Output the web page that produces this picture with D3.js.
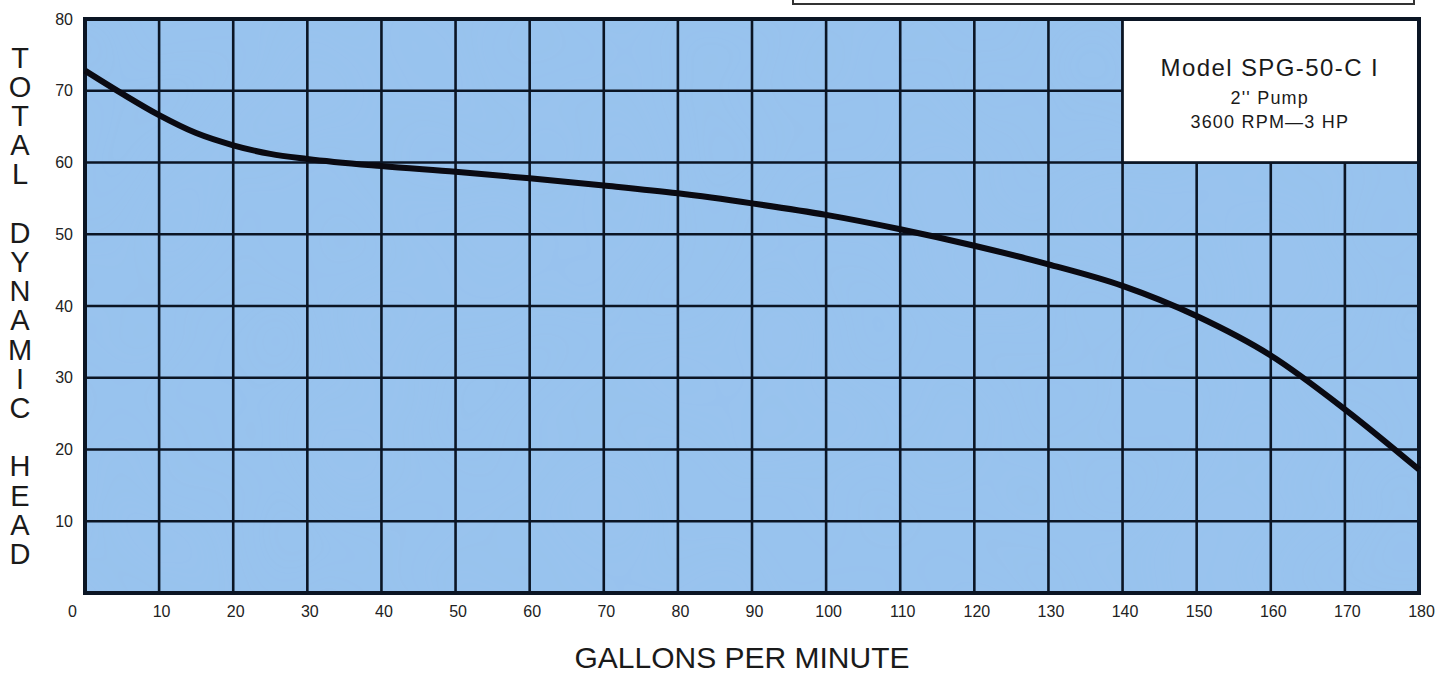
<!DOCTYPE html>
<html>
<head>
<meta charset="utf-8">
<script src="https://cdn.jsdelivr.net/npm/d3@7"></script>
<style>
  html, body { margin: 0; padding: 0; background: #ffffff; }
  svg { display: block; }
</style>
</head>
<body>
<script>
// ---- data ----
const gpm = [0, 5, 10, 15, 20, 25, 30, 40, 50, 60, 70, 80, 90, 100, 110, 120, 130, 140, 150, 160, 170, 180];
const head = [72.8, 69.6, 66.6, 64.1, 62.4, 61.2, 60.5, 59.5, 58.7, 57.8, 56.8, 55.7, 54.3, 52.7, 50.7, 48.4, 45.8, 42.8, 38.6, 33.1, 25.6, 17.2];
const xTicks = [0, 10, 20, 30, 40, 50, 60, 70, 80, 90, 100, 110, 120, 130, 140, 150, 160, 170, 180];
const yTicks = [10, 20, 30, 40, 50, 60, 70, 80];
const yTitle = "TOTAL DYNAMIC HEAD";
const xTitle = "GALLONS PER MINUTE";
const legendLines = ["Model SPG-50-C I", "2'' Pump", "3600 RPM\u20143 HP"];
const legendExtent = { x0: 140, x1: 180, y0: 60, y1: 80 };

// ---- layout ----
const W = 1453, H = 675;
const L = 85, R = 1419, T = 19, B = 593;

const svg = d3.select("body").append("svg").attr("width", W).attr("height", H);
const x = d3.scaleLinear().domain([0, 180]).range([L, R]);
const y = d3.scaleLinear().domain([0, 80]).range([B, T]);
const ink = "#0b1524";
const font = "'Liberation Sans', Arial, Helvetica, sans-serif";

// top box fragment (cut off at top)
svg.append("rect").attr("x", 793).attr("y", -20).attr("width", 621).attr("height", 24)
  .attr("fill", "none").attr("stroke", "#333").attr("stroke-width", 2);

// plot background
svg.append("rect").attr("x", L).attr("y", T).attr("width", R - L).attr("height", B - T)
  .attr("fill", "#98c3ee");

// subtle texture
const defs = svg.append("defs");
const f = defs.append("filter").attr("id", "noise").attr("x", 0).attr("y", 0).attr("width", "100%").attr("height", "100%");
f.append("feTurbulence").attr("type", "fractalNoise").attr("baseFrequency", 0.006).attr("numOctaves", 2).attr("seed", 4);
f.append("feColorMatrix").attr("type", "matrix")
  .attr("values", "0 0 0 0 0.35  0 0 0 0 0.55  0 0 0 0 0.85  0 0 0 0.35 -0.05");
svg.append("rect").attr("x", L).attr("y", T).attr("width", R - L).attr("height", B - T)
  .attr("filter", "url(#noise)").attr("opacity", 0.5);

// grid
const grid = svg.append("g").attr("stroke", ink).attr("stroke-width", 2.6);
grid.selectAll("line.v").data(xTicks.filter(d => d > 0 && d < 180)).enter().append("line")
  .attr("x1", d => x(d)).attr("x2", d => x(d)).attr("y1", T).attr("y2", B);
grid.selectAll("line.h").data(yTicks.filter(d => d < 80)).enter().append("line")
  .attr("x1", L).attr("x2", R).attr("y1", d => y(d)).attr("y2", d => y(d));

// legend box (white panel)
svg.append("rect")
  .attr("x", x(legendExtent.x0)).attr("y", y(legendExtent.y1))
  .attr("width", x(legendExtent.x1) - x(legendExtent.x0))
  .attr("height", y(legendExtent.y0) - y(legendExtent.y1))
  .attr("fill", "#ffffff").attr("stroke", ink).attr("stroke-width", 2.6);
const lcx = (x(legendExtent.x0) + x(legendExtent.x1)) / 2 - 1;
const legendSizes = [24, 18, 18];
const legendSpacing = [1.4, 1.2, 1.2];
const legendBase = [76, 104, 128];
svg.selectAll("text.leg").data(legendLines).enter().append("text")
  .attr("x", lcx).attr("y", (d, i) => legendBase[i])
  .attr("text-anchor", "middle").attr("font-family", font)
  .attr("font-size", (d, i) => legendSizes[i])
  .attr("letter-spacing", (d, i) => legendSpacing[i])
  .attr("fill", "#1a1a1a")
  .text(d => d);

// outer border
svg.append("rect").attr("x", L).attr("y", T).attr("width", R - L).attr("height", B - T)
  .attr("fill", "none").attr("stroke", ink).attr("stroke-width", 4);

// curve
const line = d3.line().x((d, i) => x(gpm[i])).y(d => y(d)).curve(d3.curveMonotoneX);
svg.append("path").datum(head).attr("d", line)
  .attr("fill", "none").attr("stroke", "#0a0a12").attr("stroke-width", 6)
  .attr("stroke-linecap", "butt");

// axes (tick labels only)
const xAxis = d3.axisBottom(x).tickValues(xTicks).tickSize(0).tickPadding(0).tickFormat(d3.format("d"));
const gx = svg.append("g").attr("transform", `translate(0,${B})`).call(xAxis);
gx.select(".domain").remove();
gx.selectAll("text").attr("font-family", font).attr("font-size", 16).attr("fill", "#222")
  .attr("y", 24).attr("dy", 0)
  .attr("dx", d => d === 0 ? -13 : 2);

const yAxis = d3.axisLeft(y).tickValues(yTicks).tickSize(0).tickPadding(0).tickFormat(d3.format("d"));
const gy = svg.append("g").attr("transform", `translate(${L},0)`).call(yAxis);
gy.select(".domain").remove();
gy.selectAll("text").attr("font-family", font).attr("font-size", 16).attr("fill", "#222")
  .attr("x", -12);

// y title: stacked letters in one text element
const chars = yTitle.split("");
const yStart = 57, yPitch = 29.2;
const yt = svg.append("text").attr("text-anchor", "middle")
  .attr("font-family", font).attr("font-size", 29).attr("fill", "#1a1a1a");
yt.selectAll("tspan").data(chars).enter().append("tspan")
  .attr("x", 20).attr("y", (d, i) => yStart + i * yPitch + 10.5)
  .text(d => d === " " ? "\u00a0" : d);

// x title
svg.append("text").attr("x", 742).attr("y", 668).attr("text-anchor", "middle")
  .attr("font-family", font).attr("font-size", 30).attr("fill", "#1a1a1a")
  .text(xTitle);
</script>
</body>
</html>
